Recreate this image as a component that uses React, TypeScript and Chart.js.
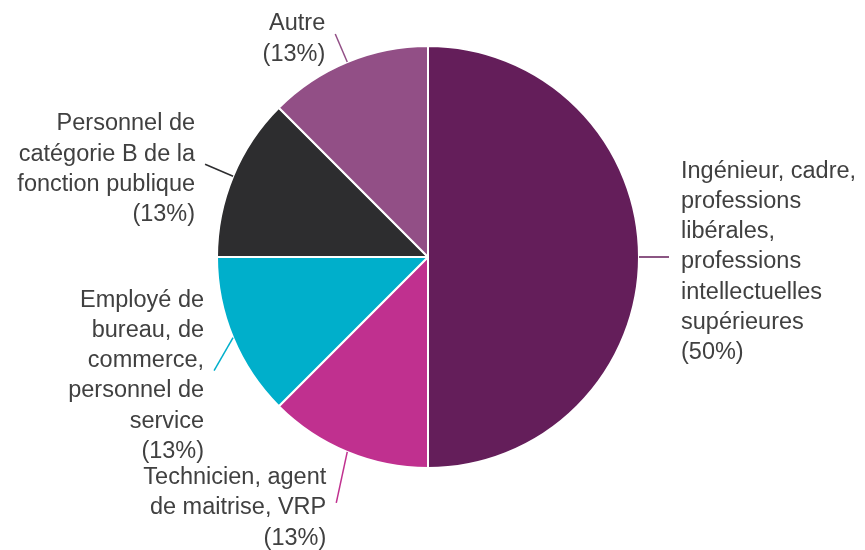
import React, { useEffect, useRef } from "react";
import { Chart, registerables } from "chart.js";

Chart.register(...registerables);

const categories = [
  "Ingénieur, cadre, professions libérales, professions intellectuelles supérieures",
  "Technicien, agent de maitrise, VRP",
  "Employé de bureau, de commerce, personnel de service",
  "Personnel de catégorie B de la fonction publique",
  "Autre",
];
const counts = [4, 1, 1, 1, 1];
const labelLines = [
  ["Ingénieur, cadre,", "professions", "libérales,", "professions", "intellectuelles", "supérieures"],
  ["Technicien, agent", "de maitrise, VRP"],
  ["Employé de", "bureau, de", "commerce,", "personnel de", "service"],
  ["Personnel de", "catégorie B de la", "fonction publique"],
  ["Autre"],
];
const colors = ["#641E5A", "#C0308F", "#00AFCB", "#2D2D2F", "#924F86"];

// leader end offsets relative to the slice's outer mid-point (layout, not data)
const leaderOffsets: [number, number][] = [
  [30, 0],
  [-11, 51],
  [-19, 33],
  [-28, -12],
  [-12, -28],
];

const FONT_SIZE = 23.5;
const LINE_H = 30.2;
const TEXT_COLOR = "#404040";

const labelPlugin = {
  id: "outerLabels",
  afterDraw(chart: any) {
    const ctx = chart.ctx;
    const meta = chart.getDatasetMeta(0);
    const data = chart.data.datasets[0].data as number[];
    const total = data.reduce((a, b) => a + b, 0);
    ctx.save();
    meta.data.forEach((arc: any, i: number) => {
      const { x, y, startAngle, endAngle, outerRadius } = arc.getProps(
        ["x", "y", "startAngle", "endAngle", "outerRadius"],
        true
      );
      const mid = (startAngle + endAngle) / 2;
      const sx = x + Math.cos(mid) * outerRadius;
      const sy = y + Math.sin(mid) * outerRadius;
      const [dx, dy] = leaderOffsets[i];
      const ex = sx + dx;
      const ey = sy + dy;
      ctx.strokeStyle = colors[i];
      ctx.lineWidth = 1.5;
      ctx.beginPath();
      ctx.moveTo(sx, sy);
      ctx.lineTo(ex, ey);
      ctx.stroke();

      const pct = Math.round((data[i] / total) * 100);
      const lines = [...labelLines[i], `(${pct}%)`];
      const right = Math.cos(mid) > 0.5;
      ctx.font = `${FONT_SIZE}px "Liberation Sans", Arial, sans-serif`;
      ctx.fillStyle = TEXT_COLOR;
      ctx.textBaseline = "middle";
      ctx.textAlign = right ? "left" : "right";
      const tx = right ? ex + 12 : ex - 10;
      const y0 = ey + 5 - ((lines.length - 1) / 2) * LINE_H;
      lines.forEach((ln, k) => ctx.fillText(ln, tx, y0 + k * LINE_H));
    });
    ctx.restore();
  },
};

export default function App() {
  const ref = useRef<HTMLCanvasElement>(null);
  useEffect(() => {
    document.body.style.margin = "0";
    const chart = new Chart(ref.current!, {
      type: "pie",
      data: {
        labels: categories,
        datasets: [
          {
            data: counts,
            backgroundColor: colors,
            borderColor: "#ffffff",
            borderWidth: 2,
            hoverOffset: 0,
            radius: 211,
          },
        ],
      },
      options: {
        animation: false,
        responsive: false,
        layout: { padding: { left: 218, right: 227, top: 47, bottom: 83 } },
        plugins: { legend: { display: false }, tooltip: { enabled: false } },
      },
      plugins: [labelPlugin],
    });
    return () => chart.destroy();
  }, []);
  return (
    <div style={{ width: 865, height: 550 }}>
      <canvas ref={ref} width={865} height={550} />
    </div>
  );
}
